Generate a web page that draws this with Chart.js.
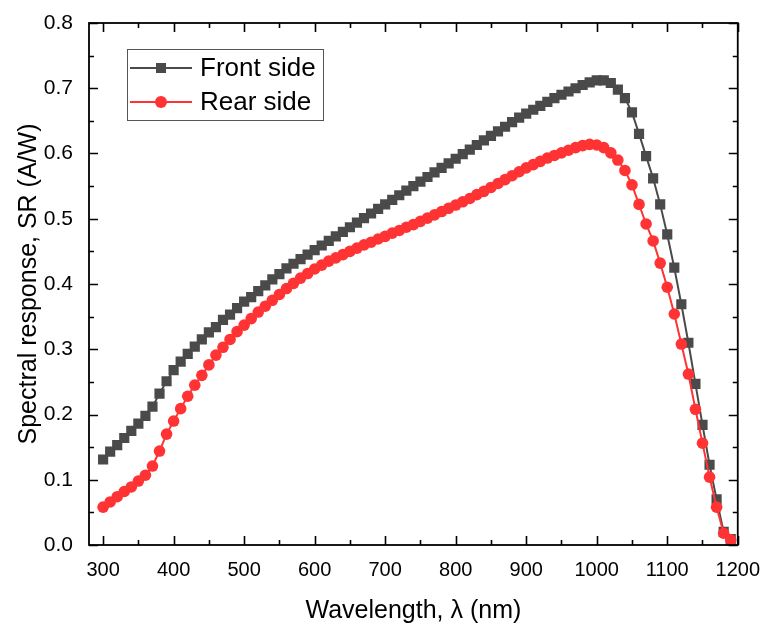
<!DOCTYPE html>
<html>
<head>
<meta charset="utf-8">
<script src="https://cdn.jsdelivr.net/npm/chart.js@4.4.1/dist/chart.umd.min.js"></script>
<style>
  html, body { margin: 0; padding: 0; background: #fff; }
  canvas { display: block; }
</style>
</head>
<body>
<canvas id="myChart" width="765" height="626"></canvas>
<script>
// wavelength (nm), one point every 10 nm
const wavelengths = [
  300, 310, 320, 330, 340, 350, 360, 370, 380, 390,
  400, 410, 420, 430, 440, 450, 460, 470, 480, 490,
  500, 510, 520, 530, 540, 550, 560, 570, 580, 590,
  600, 610, 620, 630, 640, 650, 660, 670, 680, 690,
  700, 710, 720, 730, 740, 750, 760, 770, 780, 790,
  800, 810, 820, 830, 840, 850, 860, 870, 880, 890,
  900, 910, 920, 930, 940, 950, 960, 970, 980, 990,
  1000, 1010, 1020, 1030, 1040, 1050, 1060, 1070, 1080, 1090,
  1100, 1110, 1120, 1130, 1140, 1150, 1160, 1170, 1180, 1190
];
// SR (A/W)
const frontSide = [
  0.131, 0.143, 0.153, 0.164, 0.175, 0.186, 0.198, 0.212, 0.232, 0.251,
  0.268, 0.281, 0.293, 0.304, 0.315, 0.326, 0.334, 0.345, 0.353, 0.363,
  0.373, 0.380, 0.389, 0.398, 0.407, 0.415, 0.424, 0.431, 0.438, 0.445,
  0.452, 0.459, 0.466, 0.473, 0.480, 0.487, 0.494, 0.501, 0.508, 0.515,
  0.522, 0.529, 0.536, 0.543, 0.550, 0.557, 0.564, 0.571, 0.578, 0.585,
  0.592, 0.599, 0.606, 0.613, 0.620, 0.627, 0.634, 0.641, 0.648, 0.655,
  0.661, 0.667, 0.673, 0.679, 0.685, 0.690, 0.695, 0.700, 0.705, 0.709,
  0.712, 0.712, 0.708, 0.698, 0.685, 0.663, 0.630, 0.596, 0.562, 0.522,
  0.476, 0.425, 0.369, 0.310, 0.247, 0.184, 0.123, 0.070, 0.020, 0.009
];
const rearSide = [
  0.058, 0.066, 0.074, 0.082, 0.089, 0.098, 0.107, 0.121, 0.144, 0.170,
  0.190, 0.209, 0.228, 0.245, 0.260, 0.276, 0.291, 0.303, 0.315, 0.327,
  0.337, 0.347, 0.357, 0.366, 0.375, 0.384, 0.393, 0.401, 0.409, 0.416,
  0.423, 0.429, 0.435, 0.440, 0.445, 0.450, 0.455, 0.460, 0.464, 0.469,
  0.473, 0.478, 0.482, 0.487, 0.491, 0.496, 0.501, 0.506, 0.511, 0.516,
  0.521, 0.526, 0.531, 0.537, 0.542, 0.548, 0.554, 0.560, 0.566, 0.572,
  0.578, 0.583, 0.588, 0.593, 0.597, 0.601, 0.605, 0.609, 0.612, 0.614,
  0.613, 0.609, 0.601, 0.590, 0.574, 0.552, 0.522, 0.492, 0.466, 0.432,
  0.395, 0.354, 0.308, 0.262, 0.208, 0.156, 0.104, 0.058, 0.018, 0.008
];
const xTickLabels = [300, 400, 500, 600, 700, 800, 900, 1000, 1100, 1200];
const yTickLabels = [0.0, 0.1, 0.2, 0.3, 0.4, 0.5, 0.6, 0.7, 0.8];

const FONT = "'Liberation Sans', Arial, sans-serif";
const GREY = '#4a4a4a';
const RED = '#ff3333';

const toPoints = (ys) => wavelengths.map((w, i) => ({ x: w, y: ys[i] }));

// Origin-style frame: box + inward major/minor ticks, plus boxed legend
const frameTicks = {
  id: 'frameTicks',
  afterDraw(chart) {
    const { ctx, chartArea: a, scales: { x, y } } = chart;
    ctx.save();
    ctx.strokeStyle = '#000';
    ctx.lineWidth = 1.6;
    ctx.beginPath();
    for (let v = 300; v <= 1200; v += 50) {
      const px = Math.round(x.getPixelForValue(v)) + 0.5;
      const len = v % 100 === 0 ? 9 : 5;
      ctx.moveTo(px, a.bottom); ctx.lineTo(px, a.bottom - len);
      ctx.moveTo(px, a.top); ctx.lineTo(px, a.top + len);
    }
    for (let k = 0; k <= 16; k++) {
      const py = Math.round(y.getPixelForValue(k * 0.05)) + 0.5;
      const len = k % 2 === 0 ? 9 : 5;
      ctx.moveTo(a.left, py); ctx.lineTo(a.left + len, py);
      ctx.moveTo(a.right, py); ctx.lineTo(a.right - len, py);
    }
    ctx.stroke();
    ctx.lineWidth = 1.8;
    ctx.strokeRect(a.left, a.top, a.right - a.left, a.bottom - a.top);

    // legend
    const lx = 127, ly = 49, lw = 196, lh = 71;
    ctx.fillStyle = '#fff';
    ctx.fillRect(lx, ly, lw, lh);
    ctx.strokeStyle = '#555';
    ctx.lineWidth = 1;
    ctx.strokeRect(lx + 0.5, ly + 0.5, lw, lh);
    const rows = [68, 102];
    chart.data.datasets.slice().sort((p, q) => p.legendIndex - q.legendIndex).forEach((ds, i) => {
      const cy = rows[i];
      ctx.strokeStyle = ds.borderColor;
      ctx.lineWidth = 2;
      ctx.beginPath();
      ctx.moveTo(130, cy); ctx.lineTo(192, cy);
      ctx.stroke();
      ctx.fillStyle = ds.pointBackgroundColor;
      if (ds.pointStyle === 'rect') {
        ctx.fillRect(161 - 5, cy - 5, 10, 10);
      } else {
        ctx.beginPath();
        ctx.arc(161, cy, 6, 0, Math.PI * 2);
        ctx.fill();
      }
      ctx.fillStyle = '#000';
      ctx.font = '26px ' + FONT;
      ctx.textBaseline = 'middle';
      ctx.fillText(ds.label, 200, cy + 1);
    });
    ctx.restore();
  }
};

new Chart(document.getElementById('myChart'), {
  type: 'line',
  data: {
    datasets: [{
      label: 'Front side',
      legendIndex: 0,
      order: 1,
      data: toPoints(frontSide),
      borderColor: GREY,
      borderWidth: 2,
      pointStyle: 'rect',
      pointRadius: 7.2,
      pointBackgroundColor: GREY,
      pointBorderWidth: 0,
      tension: 0
    }, {
      label: 'Rear side',
      legendIndex: 1,
      order: 0,
      data: toPoints(rearSide),
      borderColor: RED,
      borderWidth: 2,
      pointStyle: 'circle',
      pointRadius: 5.8,
      pointBackgroundColor: RED,
      pointBorderWidth: 0,
      tension: 0
    }]
  },
  options: {
    responsive: false,
    animation: false,
    devicePixelRatio: 1,
    layout: { padding: { left: 0, top: 23, right: 25, bottom: 0 } },
    plugins: {
      legend: { display: false },
      tooltip: { enabled: false }
    },
    scales: {
      x: {
        type: 'linear',
        min: 280,
        max: 1200,
        grid: { display: false },
        border: { display: false },
        afterBuildTicks: (s) => { s.ticks = xTickLabels.map(v => ({ value: v })); },
        afterFit: (s) => { s.height = 81; },
        ticks: {
          padding: 5,
          color: '#000',
          font: { family: FONT, size: 20 },
          maxRotation: 0,
          callback: (v) => String(v)
        },
        title: {
          display: true,
          text: 'Wavelength, λ (nm)',
          color: '#000',
          font: { family: FONT, size: 25 },
          padding: { top: 0, bottom: 0 }
        }
      },
      y: {
        min: 0,
        max: 0.8,
        grid: { display: false },
        border: { display: false },
        afterBuildTicks: (s) => { s.ticks = yTickLabels.map(v => ({ value: v })); },
        afterFit: (s) => { s.width = 89; },
        ticks: {
          padding: 8,
          color: '#000',
          font: { family: FONT, size: 21 },
          callback: (v) => Number(v).toFixed(1)
        },
        title: {
          display: true,
          text: 'Spectral response, SR (A/W)',
          color: '#000',
          font: { family: FONT, size: 25 },
          padding: { top: 14, bottom: 0 }
        }
      }
    }
  },
  plugins: [frameTicks]
});
</script>
</body>
</html>
